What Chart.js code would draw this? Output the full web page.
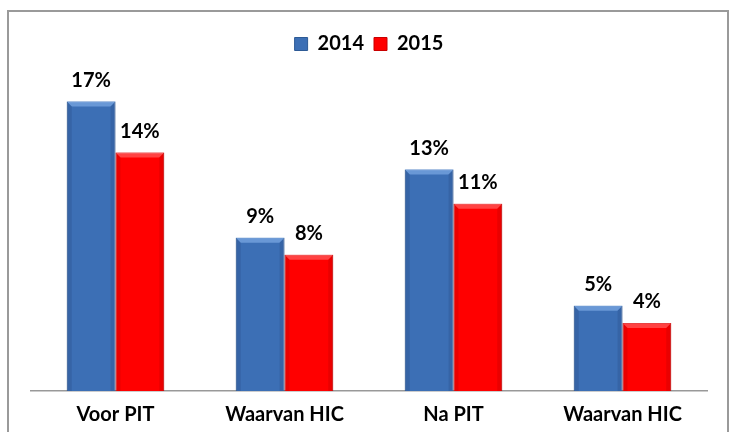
<!DOCTYPE html>
<html>
<head>
<meta charset="utf-8">
<script src="https://cdn.jsdelivr.net/npm/chart.js@4/dist/chart.umd.min.js"></script>
<style>
  html, body { margin: 0; padding: 0; background: #fff; }
  #wrap { width: 735px; height: 432px; position: relative; }
</style>
</head>
<body>
<div id="wrap"><canvas id="barChart" width="735" height="432"></canvas></div>
<script>
const categories = ['Voor PIT', 'Waarvan HIC', 'Na PIT', 'Waarvan HIC'];
const years = ['2014', '2015'];
const values2014 = [17, 9, 13, 5];
const values2015 = [14, 8, 11, 4];

const FONT = 'Lato, "Liberation Sans", sans-serif';

// grey frame round the chart, like the original office chart
const framePlugin = {
  id: 'frame',
  beforeDraw(chart) {
    const c = chart.ctx;
    c.save();
    c.strokeStyle = '#9a9a9a';
    c.lineWidth = 2;
    c.strokeRect(8, 11, 720, 480);
    c.restore();
  }
};

// light bevel on top and sides of each bar
const bevelPlugin = {
  id: 'bevel',
  afterDatasetsDraw(chart) {
    const c = chart.ctx;
    chart.data.datasets.forEach((ds, i) => {
      const meta = chart.getDatasetMeta(i);
      const light = i === 0 ? 'rgba(120,165,225,0.75)' : 'rgba(255,110,110,0.6)';
      const dark = i === 0 ? 'rgba(30,60,110,0.2)' : 'rgba(150,0,0,0.2)';
      meta.data.forEach(bar => {
        const l = bar.x - bar.width / 2, r = bar.x + bar.width / 2;
        const t = bar.y, b = bar.base;
        c.save();
        c.fillStyle = light;
        c.beginPath();
        c.moveTo(l, t); c.lineTo(r, t); c.lineTo(r - 5, t + 5); c.lineTo(l + 5, t + 5);
        c.closePath(); c.fill();
        c.fillStyle = dark;
        c.beginPath();
        c.moveTo(l, t); c.lineTo(l + 5, t + 5); c.lineTo(l + 5, b); c.lineTo(l, b);
        c.closePath(); c.fill();
        c.beginPath();
        c.moveTo(r, t); c.lineTo(r - 5, t + 5); c.lineTo(r - 5, b); c.lineTo(r, b);
        c.closePath(); c.fill();
        c.restore();
      });
    });
  }
};

// percent labels above the bars
const labelPlugin = {
  id: 'valueLabels',
  afterDatasetsDraw(chart) {
    const c = chart.ctx;
    c.save();
    c.font = 'bold 20px ' + FONT;
    c.fillStyle = '#000';
    c.textAlign = 'center';
    c.textBaseline = 'middle';
    chart.data.datasets.forEach((ds, i) => {
      chart.getDatasetMeta(i).data.forEach((bar, j) => {
        c.fillText(ds.data[j] + '%', bar.x, bar.y - 21);
      });
    });
    c.restore();
  }
};

new Chart(document.getElementById('barChart'), {
  type: 'bar',
  data: {
    labels: categories,
    datasets: [
      {
        label: years[0],
        data: values2014,
        backgroundColor: '#3C6FB5',
        borderColor: '#2D5A95',
        borderWidth: 1
      },
      {
        label: years[1],
        data: values2015,
        backgroundColor: '#FF0000',
        borderColor: '#C80000',
        borderWidth: 1
      }
    ]
  },
  options: {
    responsive: false,
    animation: false,
    layout: { padding: { top: 24, left: 31, right: 28, bottom: -7 } },
    datasets: {
      bar: { categoryPercentage: 0.577, barPercentage: 1 }
    },
    plugins: {
      legend: {
        position: 'top',
        labels: {
          color: '#000',
          font: { family: FONT, size: 20, weight: 'bold' },
          boxWidth: 13,
          boxHeight: 13,
          padding: 10
        }
      },
      tooltip: { enabled: false }
    },
    scales: {
      x: {
        grid: { display: false, drawTicks: false },
        border: { display: true, color: '#999', width: 1.5 },
        ticks: {
          color: '#000',
          padding: 12,
          maxRotation: 0,
          font: { family: FONT, size: 20, weight: 'bold' }
        }
      },
      y: {
        display: false,
        min: 0,
        max: 19.2
      }
    }
  },
  plugins: [framePlugin, bevelPlugin, labelPlugin]
});
</script>
</body>
</html>
